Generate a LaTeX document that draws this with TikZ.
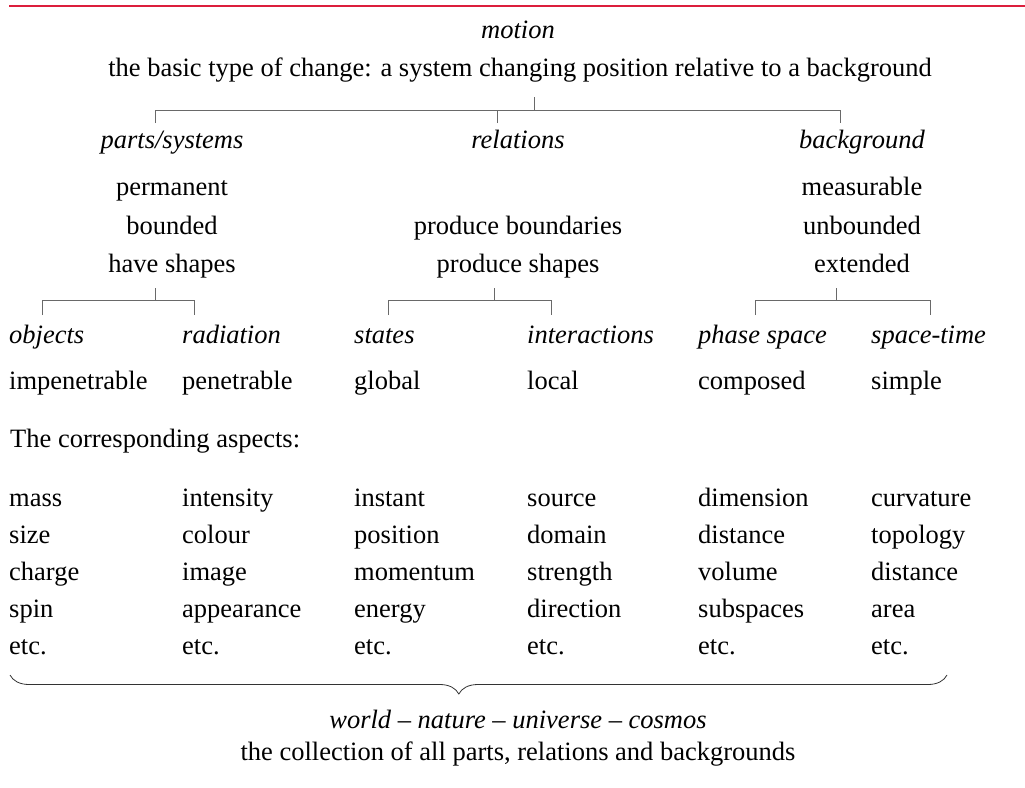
\documentclass[tikz,border=0pt]{standalone}
\usepackage{fontspec}
\setmainfont{Liberation Serif}
\usetikzlibrary{decorations.pathreplacing}

\definecolor{rulered}{RGB}{220,30,60}
\definecolor{treegray}{RGB}{105,105,105}

\begin{document}
\begin{tikzpicture}[x=1pt, y=-1pt,
    tree/.style = {draw=treegray, line width=0.9pt},
    bracket/.style = {draw=black!80, line width=0.8pt, decorate,
        decoration={brace, mirror, amplitude=19pt, aspect=0.479}}]
    \useasboundingbox (0,0) rectangle (1025,787);
    \draw[rulered, line width=2pt] (9,6) -- (1025,6);
    {
        \tikzset{every node/.style = {inner sep=0pt, anchor=base, font=\fontsize{26.5}{32}\selectfont}}
        \tikzset{head/.style = {font=\fontsize{26.5}{32}\selectfont\itshape}}
        \tikzset{cell/.style = {anchor=base west}}

        \node[head] (motion) at (518, 38) {motion};
        \node (basic) at (520, 76) {the basic type of change: a system changing position relative to a background};

        \node[head] (parts) at (172, 148) {parts/systems};
        \node (permanent) at (172, 195) {permanent};
        \node (bounded) at (172, 234) {bounded};
        \node (haveshapes) at (172, 272) {have shapes};

        \node[head] (relations) at (518, 148) {relations};
        \node (boundaries) at (518, 234) {produce boundaries};
        \node (prodshapes) at (518, 272) {produce shapes};

        \node[head] (background) at (862, 148) {background};
        \node (measurable) at (862, 195) {measurable};
        \node (unbounded) at (862, 234) {unbounded};
        \node (extended) at (862, 272) {extended};

        \node[head, cell] (objects) at (9, 343) {objects};
        \node[head, cell] (radiation) at (182, 343) {radiation};
        \node[head, cell] (states) at (354, 343) {states};
        \node[head, cell] (interactions) at (527, 343) {interactions};
        \node[head, cell] (phase) at (698, 343) {phase space};
        \node[head, cell] (spacetime) at (871, 343) {space-time};

        \node[cell] (impenetrable) at (9, 389) {impenetrable};
        \node[cell] (penetrable) at (182, 389) {penetrable};
        \node[cell] (global) at (354, 389) {global};
        \node[cell] (local) at (527, 389) {local};
        \node[cell] (composed) at (698, 389) {composed};
        \node[cell] (simple) at (871, 389) {simple};

        \node[cell] (aspects) at (10, 447) {The corresponding aspects:};

        \node[cell] (mass) at (9, 506) {mass};
        \node[cell] (size) at (9, 543) {size};
        \node[cell] (charge) at (9, 580) {charge};
        \node[cell] (spin) at (9, 617) {spin};
        \node[cell] (etc1) at (9, 654) {etc.};

        \node[cell] (intensity) at (182, 506) {intensity};
        \node[cell] (colour) at (182, 543) {colour};
        \node[cell] (image) at (182, 580) {image};
        \node[cell] (appearance) at (182, 617) {appearance};
        \node[cell] (etc2) at (182, 654) {etc.};

        \node[cell] (instant) at (354, 506) {instant};
        \node[cell] (position) at (354, 543) {position};
        \node[cell] (momentum) at (354, 580) {momentum};
        \node[cell] (energy) at (354, 617) {energy};
        \node[cell] (etc3) at (354, 654) {etc.};

        \node[cell] (source) at (527, 506) {source};
        \node[cell] (domain) at (527, 543) {domain};
        \node[cell] (strength) at (527, 580) {strength};
        \node[cell] (direction) at (527, 617) {direction};
        \node[cell] (etc4) at (527, 654) {etc.};

        \node[cell] (dimension) at (698, 506) {dimension};
        \node[cell] (distance) at (698, 543) {distance};
        \node[cell] (volume) at (698, 580) {volume};
        \node[cell] (subspaces) at (698, 617) {subspaces};
        \node[cell] (etc5) at (698, 654) {etc.};

        \node[cell] (curvature) at (871, 506) {curvature};
        \node[cell] (topology) at (871, 543) {topology};
        \node[cell] (distance2) at (871, 580) {distance};
        \node[cell] (area) at (871, 617) {area};
        \node[cell] (etc6) at (871, 654) {etc.};

        \node[head] (world) at (518, 728) {world -- nature -- universe -- cosmos};
        \node (collection) at (518, 760) {the collection of all parts, relations and backgrounds};
    }

    % first split
    \coordinate (t0) at (534, 97);
    \coordinate (t1) at (534, 110.5);
    \coordinate (tp) at (155, 123);
    \coordinate (tr) at (497, 123);
    \coordinate (tb) at (840, 123);
    \draw[tree] (t0) -- (t1);
    \draw[tree] (tp) -- (tp |- t1) -- (tb |- t1) -- (tb);
    \draw[tree] (tr) -- (tr |- t1);

    % second split
    \coordinate (p0) at (155, 288);
    \coordinate (p1) at (155, 300.5);
    \coordinate (po) at (42, 315);
    \coordinate (pr) at (194, 315);
    \draw[tree] (p0) -- (p1);
    \draw[tree] (po) -- (po |- p1) -- (pr |- p1) -- (pr);

    \coordinate (r0) at (494, 288);
    \coordinate (r1) at (494, 300.5);
    \coordinate (rs) at (388, 315);
    \coordinate (ri) at (551, 315);
    \draw[tree] (r0) -- (r1);
    \draw[tree] (rs) -- (rs |- r1) -- (ri |- r1) -- (ri);

    \coordinate (b0) at (836, 288);
    \coordinate (b1) at (836, 300.5);
    \coordinate (bp) at (755, 315);
    \coordinate (bs) at (930, 315);
    \draw[tree] (b0) -- (b1);
    \draw[tree] (bp) -- (bp |- b1) -- (bs |- b1) -- (bs);

    % everything together
    \coordinate (bl) at (10, 675);
    \coordinate (br) at (947, 675);
    \draw[bracket] (bl) -- (br);
\end{tikzpicture}
\end{document}
